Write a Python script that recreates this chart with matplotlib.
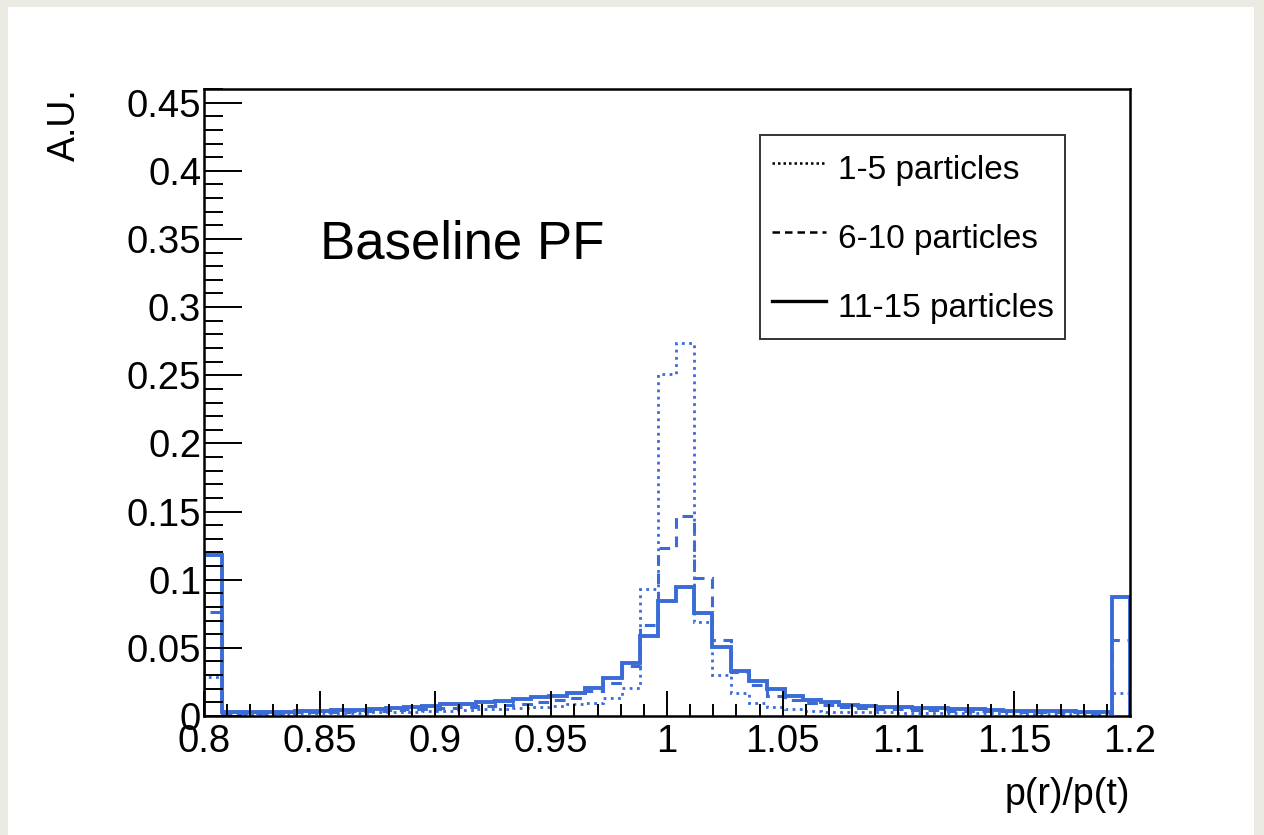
import numpy as np
import matplotlib
matplotlib.use("Agg")
import matplotlib.pyplot as plt
from matplotlib.lines import Line2D
from matplotlib.patches import Rectangle

plt.rcParams['font.family'] = ['Liberation Sans', 'DejaVu Sans']

# 51 bins between 0.8 and 1.2
x_min, x_max, n_bins = 0.8, 1.2, 51

labels = ["1-5 particles", "6-10 particles", "11-15 particles"]

h_1_5 = [0.0287, 0.0015, 0.0015, 0.0017, 0.0018, 0.002, 0.002, 0.0022, 0.0025, 0.0028,
         0.003, 0.0032, 0.0035, 0.004, 0.0042, 0.0048, 0.0052, 0.006, 0.0065, 0.0073,
         0.0087, 0.0097, 0.0134, 0.0207, 0.0934, 0.251, 0.2735, 0.069, 0.030, 0.0166,
         0.0097, 0.0068, 0.0053, 0.0036, 0.003, 0.003, 0.0028, 0.0027, 0.0025, 0.0025,
         0.0023, 0.0022, 0.002, 0.002, 0.002, 0.0018, 0.0018, 0.0017, 0.0016, 0.0015,
         0.017]

h_6_10 = [0.076, 0.002, 0.002, 0.0025, 0.0025, 0.003, 0.003, 0.0033, 0.0035, 0.004,
          0.0045, 0.005, 0.0055, 0.006, 0.0065, 0.007, 0.008, 0.009, 0.0105, 0.012,
          0.0135, 0.018, 0.024, 0.037, 0.067, 0.123, 0.147, 0.101, 0.0555, 0.032,
          0.0226, 0.0148, 0.012, 0.0095, 0.0078, 0.0065, 0.006, 0.0055, 0.005, 0.0045,
          0.0045, 0.004, 0.004, 0.0035, 0.0035, 0.003, 0.003, 0.003, 0.0028, 0.0025,
          0.056]

h_11_15 = [0.118, 0.003, 0.003, 0.003, 0.0032, 0.0035, 0.004, 0.0042, 0.0045, 0.005,
           0.006, 0.0068, 0.0072, 0.0085, 0.0088, 0.010, 0.011, 0.0123, 0.0138, 0.015,
           0.017, 0.0207, 0.0277, 0.039, 0.059, 0.0847, 0.0944, 0.0754, 0.0506, 0.0328,
           0.0255, 0.020, 0.0146, 0.012, 0.010, 0.008, 0.0075, 0.0068, 0.0065, 0.006,
           0.006, 0.0055, 0.005, 0.0045, 0.004, 0.004, 0.0037, 0.0035, 0.0032, 0.003,
           0.087]

edges = np.linspace(x_min, x_max, n_bins + 1)
blue = '#3a6bd6'

fig = plt.figure(figsize=(12.64, 8.35), dpi=100, facecolor='#ebebe3')
# white page on the beige background
fig.patches.append(Rectangle((8 / 1264, 0), 1246 / 1264, 1 - 7 / 835,
                             transform=fig.transFigure, facecolor='white',
                             edgecolor='none', zorder=-10))

ax = fig.add_axes([204 / 1264, 1 - 716 / 835, 926 / 1264, 627 / 835])
ax.set_zorder(1)

ax.stairs(h_1_5, edges, color=blue, lw=2.0, linestyle=(0, (1, 1.6)))
ax.stairs(h_6_10, edges, color=blue, lw=2.2, linestyle=(0, (3.5, 2.5)))
ax.stairs(h_11_15, edges, color=blue, lw=2.8)

ax.set_xlim(x_min, x_max)
ax.set_ylim(0, 0.46)

ax.set_xticks(np.arange(0.8, 1.2001, 0.05))
ax.set_xticklabels(['0.8', '0.85', '0.9', '0.95', '1', '1.05', '1.1', '1.15', '1.2'])
ax.set_xticks(np.arange(0.8, 1.2001, 0.01), minor=True)
ax.set_yticks(np.arange(0, 0.4501, 0.05))
ax.set_yticklabels(['0', '0.05', '0.1', '0.15', '0.2', '0.25', '0.3', '0.35', '0.4', '0.45'])
ax.set_yticks(np.arange(0, 0.4601, 0.01), minor=True)

ax.tick_params(axis='both', which='both', direction='in', width=1.4, colors='black')
ax.tick_params(axis='x', which='major', length=18, labelsize=27.5, pad=6)
ax.tick_params(axis='x', which='minor', length=9)
ax.tick_params(axis='y', which='major', length=27, labelsize=27.5, pad=2)
ax.tick_params(axis='y', which='minor', length=14)
for sp in ax.spines.values():
    sp.set_linewidth(1.8)

ax.text(0.850, 0.346, 'Baseline PF', fontsize=38, va='center', ha='left')

fig.text(65 / 1264, 1 - 88 / 835, 'A.U.', rotation=90, ha='center', va='top', fontsize=27)
fig.text(1130 / 1264, 1 - 795 / 835, 'p(r)/p(t)', ha='right', va='center', fontsize=27)

handles = [Line2D([], [], color='black', lw=1.8, linestyle=(0, (1, 1.2))),
           Line2D([], [], color='black', lw=1.8, linestyle=(0, (3, 2))),
           Line2D([], [], color='black', lw=2.4)]
leg = ax.legend(handles, labels, loc='upper left',
                bbox_to_anchor=(760 / 1264, 1 - 135 / 835),
                bbox_transform=fig.transFigure, fontsize=24,
                frameon=True, fancybox=False, edgecolor='black',
                handlelength=1.62, handleheight=1.6, handletextpad=0.36,
                labelspacing=0.78, borderpad=0.35, borderaxespad=0)
leg.get_frame().set_linewidth(1.4)

fig.savefig('out.png', dpi=100, facecolor=fig.get_facecolor())
